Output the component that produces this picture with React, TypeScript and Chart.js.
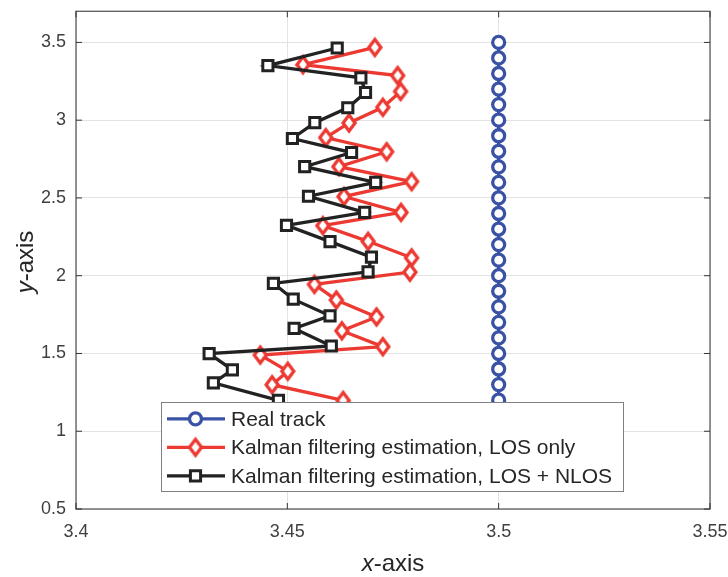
import { useEffect, useRef } from "react";
import { Chart, registerables, type Plugin } from "chart.js";

Chart.register(...registerables);

// ---- data ----
const realTrackX = [3.5, 3.5, 3.5, 3.5, 3.5, 3.5, 3.5, 3.5, 3.5, 3.5, 3.5, 3.5, 3.5, 3.5, 3.5, 3.5, 3.5, 3.5, 3.5, 3.5, 3.5, 3.5, 3.5, 3.5];
const realTrackY = [3.5, 3.4, 3.3, 3.2, 3.1, 3.0, 2.9, 2.8, 2.7, 2.6, 2.5, 2.4, 2.3, 2.2, 2.1, 2.0, 1.9, 1.8, 1.7, 1.6, 1.5, 1.4, 1.3, 1.2];

const losOnlyX = [3.4707, 3.4537, 3.4761, 3.4768, 3.4726, 3.4646, 3.4591, 3.4735, 3.4622, 3.4794, 3.4634, 3.4769, 3.4584, 3.4691, 3.4794, 3.479, 3.4564, 3.4616, 3.4711, 3.4629, 3.4726, 3.4436, 3.4501, 3.4464, 3.4632];
const losOnlyY = [3.468, 3.357, 3.287, 3.185, 3.083, 2.982, 2.888, 2.797, 2.701, 2.605, 2.509, 2.407, 2.322, 2.221, 2.115, 2.023, 1.944, 1.844, 1.735, 1.646, 1.544, 1.49, 1.386, 1.299, 1.198];

const losNlosX = [3.4618, 3.4454, 3.4674, 3.4685, 3.4643, 3.4565, 3.4512, 3.4652, 3.4541, 3.4709, 3.455, 3.4683, 3.4498, 3.4601, 3.4699, 3.4691, 3.4467, 3.4514, 3.4601, 3.4516, 3.4604, 3.4315, 3.437, 3.4325, 3.4479];
const losNlosY = [3.464, 3.351, 3.272, 3.178, 3.08, 2.984, 2.882, 2.792, 2.701, 2.6, 2.511, 2.407, 2.324, 2.219, 2.119, 2.025, 1.951, 1.849, 1.742, 1.661, 1.548, 1.499, 1.395, 1.311, 1.198];

const seriesNames = ["Real track", "Kalman filtering estimation, LOS only", "Kalman filtering estimation, LOS + NLOS"];
const seriesColors = ["#3a52a6", "#ec3a33", "#222222"];

const xTicks = [3.4, 3.45, 3.5, 3.55];
const yTicks = [0.5, 1, 1.5, 2, 2.5, 3, 3.5];

const FONT = "'Liberation Sans', Arial, sans-serif";

function toPoints(xs: number[], ys: number[]) {
  return xs.map((x, i) => ({ x, y: ys[i] }));
}

function makeDiamond(color: string) {
  const c = document.createElement("canvas");
  c.width = 22;
  c.height = 26;
  const g = c.getContext("2d")!;
  g.beginPath();
  g.moveTo(11, 13 - 8);
  g.lineTo(11 + 6, 13);
  g.lineTo(11, 13 + 8);
  g.lineTo(11 - 6, 13);
  g.closePath();
  g.fillStyle = "#ffffff";
  g.fill();
  g.lineWidth = 3.3;
  g.strokeStyle = color;
  g.stroke();
  return c;
}

function drawMarker(ctx: CanvasRenderingContext2D, kind: number, x: number, y: number, diamond: HTMLCanvasElement) {
  ctx.save();
  ctx.lineWidth = 3.3;
  ctx.strokeStyle = seriesColors[kind];
  ctx.fillStyle = "#ffffff";
  if (kind === 0) {
    ctx.beginPath();
    ctx.arc(x, y, 6, 0, Math.PI * 2);
    ctx.fill();
    ctx.stroke();
  } else if (kind === 1) {
    ctx.drawImage(diamond, x - diamond.width / 2, y - diamond.height / 2);
  } else {
    const s = 7.2 * Math.SQRT1_2;
    ctx.lineWidth = 3;
    ctx.beginPath();
    ctx.rect(x - s, y - s, 2 * s, 2 * s);
    ctx.fill();
    ctx.stroke();
  }
  ctx.restore();
}

export default function App() {
  const canvasRef = useRef<HTMLCanvasElement | null>(null);
  const chartRef = useRef<Chart | null>(null);

  useEffect(() => {
    const el = canvasRef.current;
    if (!el) return;
    chartRef.current?.destroy();

    const diamond = makeDiamond(seriesColors[1]);

    // box, inward ticks, legend and axis titles (MATLAB look)
    const decor: Plugin<"line"> = {
      id: "decor",
      afterDatasetsDraw(chart) {
        const { ctx, chartArea: a, scales } = chart;
        ctx.save();
        ctx.strokeStyle = "#5c5c5c";
        ctx.lineWidth = 1.3;
        ctx.strokeRect(a.left, a.top, a.right - a.left, a.bottom - a.top);
        ctx.strokeStyle = "#333333";
        ctx.lineWidth = 1;
        ctx.beginPath();
        for (const v of xTicks) {
          const x = scales.x.getPixelForValue(v);
          ctx.moveTo(x, a.bottom);
          ctx.lineTo(x, a.bottom - 6);
          ctx.moveTo(x, a.top);
          ctx.lineTo(x, a.top + 6);
        }
        for (const v of yTicks) {
          const y = scales.y.getPixelForValue(v);
          ctx.moveTo(a.left, y);
          ctx.lineTo(a.left + 6, y);
          ctx.moveTo(a.right, y);
          ctx.lineTo(a.right - 6, y);
        }
        ctx.stroke();

        // legend box
        const lx = 161.5, ly = 402.5, lw = 462, lh = 89;
        ctx.fillStyle = "#ffffff";
        ctx.fillRect(lx, ly, lw, lh);
        ctx.strokeStyle = "#808080";
        ctx.lineWidth = 1;
        ctx.strokeRect(lx, ly, lw, lh);
        seriesNames.forEach((name, i) => {
          const cy = 418.8 + i * 28.5;
          ctx.strokeStyle = seriesColors[i];
          ctx.lineWidth = 3.3;
          ctx.beginPath();
          ctx.moveTo(167, cy);
          ctx.lineTo(225, cy);
          ctx.stroke();
          drawMarker(ctx, i, 195.5, cy, diamond);
          ctx.fillStyle = "#262626";
          ctx.font = `21px ${FONT}`;
          ctx.textAlign = "left";
          ctx.textBaseline = "middle";
          ctx.fillText(name, 231, cy + 1);
        });

        // axis titles with italic variable letter
        ctx.fillStyle = "#262626";
        ctx.textBaseline = "alphabetic";
        ctx.textAlign = "left";
        const italic = `italic 24px ${FONT}`;
        const normal = `24px ${FONT}`;
        ctx.font = italic;
        const wx = ctx.measureText("x").width;
        ctx.font = normal;
        const wr = ctx.measureText("-axis").width;
        const cx = (a.left + a.right) / 2;
        const sx = cx - (wx + wr) / 2;
        ctx.font = italic;
        ctx.fillText("x", sx, 571);
        ctx.font = normal;
        ctx.fillText("-axis", sx + wx, 571);

        ctx.translate(33, 262);
        ctx.rotate(-Math.PI / 2);
        ctx.font = italic;
        const wy = ctx.measureText("y").width;
        const sy = -(wy + wr) / 2;
        ctx.fillText("y", sy, 0);
        ctx.font = normal;
        ctx.fillText("-axis", sy + wy, 0);
        ctx.restore();
      },
    };

    const tickFont = { family: FONT, size: 18 };

    chartRef.current = new Chart(el, {
      type: "line",
      data: {
        datasets: [
          {
            label: seriesNames[0],
            data: toPoints(realTrackX, realTrackY),
            borderColor: seriesColors[0],
            backgroundColor: "#ffffff",
            borderWidth: 3.3,
            pointStyle: "circle",
            pointRadius: 6,
            pointBorderWidth: 3.3,
            pointBackgroundColor: "#ffffff",
            pointBorderColor: seriesColors[0],
            order: 2,
          },
          {
            label: seriesNames[1],
            data: toPoints(losOnlyX, losOnlyY),
            borderColor: seriesColors[1],
            backgroundColor: "#ffffff",
            borderWidth: 3.3,
            pointStyle: diamond,
            pointRadius: 8,
            order: 1,
          },
          {
            label: seriesNames[2],
            data: toPoints(losNlosX, losNlosY),
            borderColor: seriesColors[2],
            backgroundColor: "#ffffff",
            borderWidth: 3.3,
            pointStyle: "rect",
            pointRadius: 7.2,
            pointBorderWidth: 3,
            pointBackgroundColor: "#ffffff",
            pointBorderColor: seriesColors[2],
            order: 0,
          },
        ],
      },
      options: {
        responsive: false,
        animation: false,
        events: [],
        layout: { padding: { left: 0, top: 9, right: 18, bottom: 0 } },
        plugins: { legend: { display: false }, tooltip: { enabled: false } },
        elements: { line: { tension: 0 } },
        scales: {
          x: {
            type: "linear",
            min: 3.4,
            max: 3.55,
            afterBuildTicks: (axis) => {
              axis.ticks = xTicks.map((value) => ({ value }));
            },
            afterFit: (axis) => {
              axis.height = 68;
              axis.paddingLeft = 0;
              axis.paddingRight = 0;
            },
            grid: { color: "#e3e3e3", lineWidth: 1, drawTicks: false },
            border: { display: false },
            ticks: {
              font: tickFont,
              color: "#404040",
              padding: 12,
              maxRotation: 0,
              callback: (v) => String(Number(v)),
            },
          },
          y: {
            type: "linear",
            min: 0.5,
            max: 3.7,
            afterBuildTicks: (axis) => {
              axis.ticks = yTicks.map((value) => ({ value }));
            },
            afterFit: (axis) => {
              axis.width = 76;
              axis.paddingTop = 0;
              axis.paddingBottom = 0;
            },
            grid: { color: "#e3e3e3", lineWidth: 1, drawTicks: false },
            border: { display: false },
            ticks: {
              font: tickFont,
              color: "#404040",
              padding: 10,
              callback: (v) => String(Number(v)),
            },
          },
        },
      },
      plugins: [decor],
    });

    return () => {
      chartRef.current?.destroy();
      chartRef.current = null;
    };
  }, []);

  return (
    <div style={{ position: "fixed", left: 0, top: 0, width: 728, height: 577, background: "#ffffff" }}>
      <canvas ref={canvasRef} width={728} height={577} style={{ display: "block" }} />
    </div>
  );
}
